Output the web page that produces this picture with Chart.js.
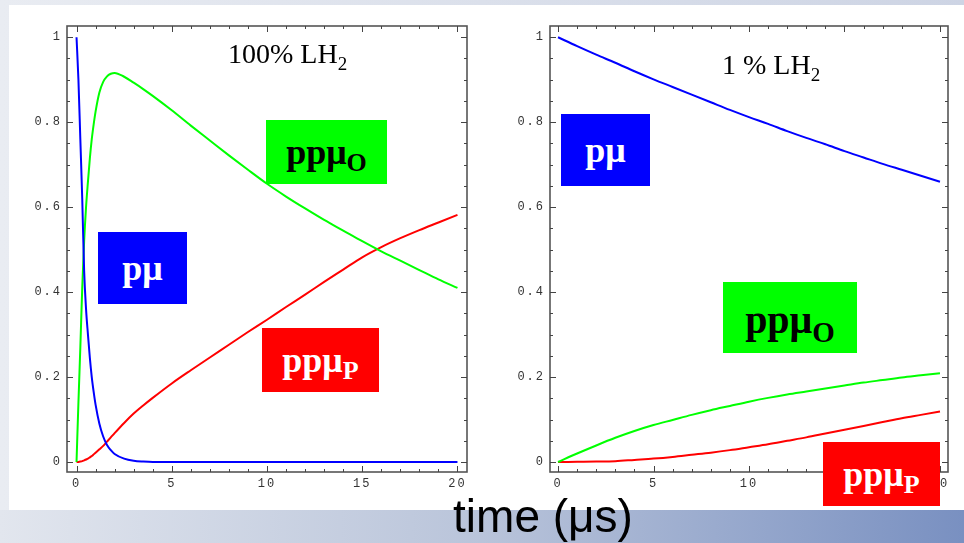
<!DOCTYPE html>
<html><head><meta charset="utf-8">
<script src="https://cdn.jsdelivr.net/npm/chart.js@4.4.1/dist/chart.umd.min.js"></script>
<style>
html,body{margin:0;padding:0;}
body{width:964px;height:543px;position:relative;overflow:hidden;background:linear-gradient(to right,#e9ecf2,#cdd4e4);}
#white{position:absolute;left:9px;top:5px;width:955px;height:505px;background:#fff;}
#band{position:absolute;left:0;top:510px;width:964px;height:33px;background:linear-gradient(to right,#e2e6ee 0%,#b9c4da 50%,#7990c1 100%);}
canvas{position:absolute;top:0;}
#c1{left:0;} #c2{left:480px;}
.lbl{position:absolute;font-family:'Liberation Serif','Times New Roman',serif;white-space:nowrap;line-height:28px;font-size:28px;color:#000;}
.lbl sub{font-size:19px;vertical-align:baseline;position:relative;top:7px;line-height:0;}
.box{position:absolute;display:flex;align-items:center;justify-content:center;font-family:'Liberation Serif','Times New Roman',serif;font-weight:bold;font-size:36px;line-height:36px;white-space:nowrap;box-sizing:border-box;}
.box sub{font-size:26px;vertical-align:baseline;position:relative;top:11px;line-height:0;}
#time{position:absolute;left:393px;width:300px;top:493px;text-align:center;font-family:'Liberation Sans',Arial,sans-serif;font-size:46px;line-height:46px;color:#000;}
</style></head>
<body>
<div id="white"></div>
<div id="band"></div>
<canvas id="c1" width="480" height="510"></canvas>
<canvas id="c2" width="484" height="510"></canvas>
<div class="lbl" style="left:228px;top:40px;">100% LH<sub>2</sub></div>
<div class="lbl" style="left:722px;top:51px;">1 % LH<sub>2</sub></div>
<div class="box" style="left:266px;top:120px;width:121px;height:64px;background:#00ff00;color:#000;">ppμ<sub>O</sub></div>
<div class="box" style="left:98px;top:232px;width:89px;height:72px;background:#0000ff;color:#fff;">pμ</div>
<div class="box" style="left:262px;top:328px;width:117px;height:64px;background:#ff0000;color:#fff;">ppμ<sub>P</sub></div>
<div class="box" style="left:561px;top:114px;width:89px;height:72px;background:#0000ff;color:#fff;">pμ</div>
<div class="box" style="left:723px;top:282px;width:134px;height:71px;background:#00ff00;color:#000;font-size:40px;line-height:40px;padding-top:5px;">ppμ<sub style="font-size:29px;top:12px;">O</sub></div>
<div class="box" style="left:823px;top:442px;width:117px;height:64px;background:#ff0000;color:#fff;">ppμ<sub>P</sub></div>
<div id="time">time (μs)</div>
<script>
// ---- data ----
const xTickValues = [0, 5, 10, 15, 20];
const xTickLabels = ['0', '5', '10', '15', '20'];
const yTickValues = [0, 0.2, 0.4, 0.6, 0.8, 1];
const yTickLabels = ['0', '0.2', '0.4', '0.6', '0.8', '1'];

// left panel: 100% LH2
const leftTime = [0,0.1,0.2,0.3,0.4,0.5,0.6,0.7,0.8,0.9,1.0,1.2,1.4,1.6,1.8,2.0,2.5,3,3.5,4,5,6,7,8,9,10,11,12,13,14,15,16,17,18,19,20];
const leftPmu = [1,0.9,0.76,0.62,0.45,0.36,0.3,0.245,0.2,0.165,0.135,0.09,0.06,0.04,0.028,0.019,0.008,0.003,0.001,0,0,0,0,0,0,0,0,0,0,0,0,0,0,0,0,0];
const leftOrtho = [0,0.14,0.27,0.41,0.52,0.6,0.66,0.715,0.76,0.795,0.825,0.87,0.895,0.908,0.914,0.916,0.907,0.893,0.878,0.862,0.828,0.792,0.757,0.722,0.688,0.655,0.625,0.597,0.57,0.545,0.52,0.496,0.474,0.452,0.43,0.41];
const leftPara = [0,0.0003,0.001,0.002,0.004,0.006,0.008,0.011,0.014,0.018,0.022,0.03,0.038,0.048,0.058,0.068,0.092,0.114,0.133,0.151,0.185,0.216,0.246,0.276,0.306,0.335,0.365,0.394,0.424,0.453,0.482,0.506,0.527,0.546,0.564,0.582];

// right panel: 1 % LH2
const rightTime = [0,1,2,3,4,5,6,7,8,9,10,11,12,13,14,15,16,17,18,19,20];
const rightPmu = [1,0.979,0.959,0.94,0.92,0.901,0.883,0.865,0.847,0.829,0.812,0.796,0.779,0.763,0.748,0.732,0.717,0.702,0.688,0.674,0.66];
const rightOrtho = [0,0.02,0.039,0.057,0.073,0.087,0.099,0.111,0.122,0.132,0.142,0.151,0.159,0.166,0.173,0.18,0.187,0.193,0.199,0.204,0.209];
const rightPara = [0,0.0005,0.001,0.002,0.005,0.008,0.012,0.017,0.022,0.028,0.035,0.042,0.05,0.058,0.067,0.076,0.085,0.094,0.103,0.111,0.119];

const BLUE = '#0000ff', GREEN = '#00ff00', RED = '#ff0000';

function pts(t, v){ return t.map((x,i)=>({x:x, y:v[i]})); }

const framePlugin = {
  id: 'mframe',
  beforeDraw(chart){ chart.ctx.letterSpacing = '2px'; },
  afterDatasetsDraw(chart){
    const {ctx, chartArea:a, scales:{x, y}} = chart;
    ctx.save();
    ctx.letterSpacing = '0px';
    ctx.strokeStyle = '#555';
    ctx.lineWidth = 1.6;
    ctx.strokeRect(a.left, a.top, a.right - a.left, a.bottom - a.top);
    ctx.lineWidth = 1;
    ctx.strokeStyle = '#444';
    ctx.beginPath();
    for (let i = 0; i <= 20; i++) {
      const px = Math.round(x.getPixelForValue(i)) + 0.5;
      const L = (i % 5 === 0) ? 6 : 3;
      ctx.moveTo(px, a.bottom); ctx.lineTo(px, a.bottom - L);
      ctx.moveTo(px, a.top); ctx.lineTo(px, a.top + L);
    }
    for (let j = 0; j <= 20; j++) {
      const py = Math.round(y.getPixelForValue(j * 0.05)) + 0.5;
      const L = (j % 4 === 0) ? 6 : 3;
      ctx.moveTo(a.left, py); ctx.lineTo(a.left + L, py);
      ctx.moveTo(a.right, py); ctx.lineTo(a.right - L, py);
    }
    ctx.stroke();
    ctx.restore();
  }
};

function makeChart(id, series, xmin, xmax, yAxisWidth, padRight){
  const ds = series.map(s => ({
    data: s.data, borderColor: s.color, backgroundColor: s.color,
    borderWidth: 2, pointRadius: 0, showLine: true, fill: false,
    cubicInterpolationMode: 'monotone'
  }));
  return new Chart(document.getElementById(id), {
    type: 'scatter',
    data: { datasets: ds },
    options: {
      responsive: false, animation: false, devicePixelRatio: 1,
      layout: { padding: { left: 0, right: padRight, top: 26, bottom: 18 } },
      plugins: { legend: { display: false }, tooltip: { enabled: false } },
      scales: {
        x: {
          type: 'linear', min: xmin, max: xmax,
          grid: { display: false, drawTicks: false }, border: { display: false },
          afterBuildTicks: s => { s.ticks = xTickValues.map(v => ({value: v})); },
          afterFit: s => { s.height = 20; },
          ticks: {
            padding: 5, maxRotation: 0, autoSkip: false, color: '#333',
            font: { family: "'Liberation Mono', 'Courier New', monospace", size: 12 },
            callback: v => xTickLabels[xTickValues.indexOf(v)]
          }
        },
        y: {
          type: 'linear', min: -0.0235, max: 1.0265,
          grid: { display: false, drawTicks: false }, border: { display: false },
          afterBuildTicks: s => { s.ticks = yTickValues.map(v => ({value: v})); },
          afterFit: s => { s.width = yAxisWidth; },
          ticks: {
            padding: 5, autoSkip: false, color: '#333',
            font: { family: "'Liberation Mono', 'Courier New', monospace", size: 12 },
            callback: v => yTickLabels[yTickValues.indexOf(v)]
          }
        }
      }
    },
    plugins: [framePlugin]
  });
}

makeChart('c1', [
  { data: pts(leftTime, leftPmu), color: BLUE },
  { data: pts(leftTime, leftOrtho), color: GREEN },
  { data: pts(leftTime, leftPara), color: RED }
], -0.5, 20.5, 67, 13);

makeChart('c2', [
  { data: pts(rightTime, rightPmu), color: BLUE },
  { data: pts(rightTime, rightOrtho), color: GREEN },
  { data: pts(rightTime, rightPara), color: RED }
], -0.42, 20.42, 70, 16);
</script>
</body></html>
